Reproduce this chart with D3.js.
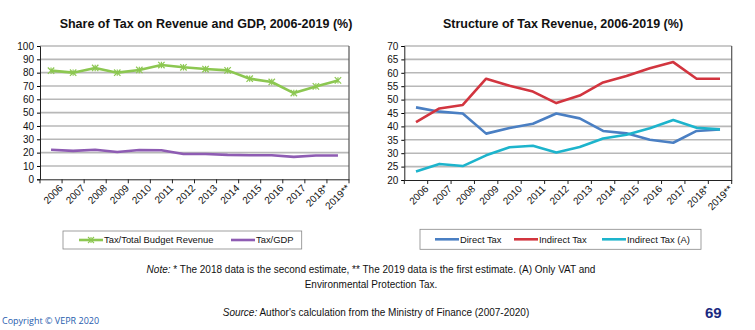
<!DOCTYPE html>
<html><head><meta charset="utf-8">
<script src="https://cdn.jsdelivr.net/npm/d3@7"></script>
<style>body{margin:0;background:#fff}svg{display:block}</style>
</head><body>
<script>
const years = ["2006","2007","2008","2009","2010","2011","2012","2013","2014","2015","2016","2017","2018*","2019**"];
const taxRevenue = [81.5,80,83.5,80,82,85.7,84,82.7,81.7,75.5,73,64.7,69.7,74.2];
const taxGDP = [22.2,21.3,22.2,20.5,22,21.8,19,19,18.3,18,18,16.8,17.8,17.8];
const directTax = [47.1,45.5,44.8,37.3,39.4,41,44.8,43,38.3,37.4,35,33.9,38.3,38.9];
const indirectTax = [41.6,46.7,48,57.8,55.2,53,48.7,51.5,56.4,58.8,61.7,64,57.8,57.8];
const indirectTaxA = [23.2,26,25.2,29.2,32.2,32.8,30.3,32.3,35.5,36.9,39.3,42.4,39.5,38.9];
const leftTicks = [0,10,20,30,40,50,60,70,80,90,100];
const rightTicks = [20,25,30,35,40,45,50,55,60,65,70];

const svg = d3.select("body").append("svg").attr("width",755).attr("height",330);
const FONT = "Liberation Sans, Arial, sans-serif";

function panel(cfg){
  const g = svg.append("g");
  const x = d3.scaleBand().domain(years).range([cfg.x0,cfg.x1]);
  const y = d3.scaleLinear().domain(cfg.domain).range([cfg.y1,cfg.y0]);
  g.selectAll(".grid").data(cfg.ticks.slice(1)).enter().append("line")
    .attr("x1",cfg.x0).attr("x2",cfg.x1).attr("y1",d=>y(d)).attr("y2",d=>y(d))
    .attr("stroke","#b8b8b8").attr("stroke-width",1.6);
  g.append("line").attr("x1",cfg.x1).attr("x2",cfg.x1).attr("y1",cfg.y0).attr("y2",cfg.y1)
    .attr("stroke","#555").attr("stroke-width",1.2);
  const ya = g.append("g").attr("transform",`translate(${cfg.x0},0)`)
    .call(d3.axisLeft(y).tickValues(cfg.ticks).tickSize(3).tickPadding(3));
  ya.select(".domain").attr("stroke","#222");
  ya.selectAll("text").attr("font-family",FONT).attr("font-size",10).attr("fill","#111");
  const xa = g.append("g").attr("transform",`translate(0,${cfg.y1})`)
    .call(d3.axisBottom(x).tickSize(0));
  xa.select(".domain").attr("stroke","#222");
  const bounds = years.map(d=>x(d)).concat([cfg.x1]);
  g.selectAll(".bt").data(bounds).enter().append("line")
    .attr("x1",d=>d).attr("x2",d=>d).attr("y1",cfg.y1).attr("y2",cfg.y1+4)
    .attr("stroke","#222");
  xa.selectAll(".tick text").attr("font-family",FONT).attr("font-size",10).attr("fill","#111")
    .attr("text-anchor","end").attr("x",0).attr("y",0)
    .attr("transform",`translate(${x.bandwidth()/2-1},7) rotate(-45)`)
    .attr("dy","0.35em").attr("dx","0");
  cfg.series.forEach(s=>{
    const line = d3.line().x((d,i)=>x(years[i])+x.bandwidth()/2).y(d=>y(d));
    g.append("path").datum(s.values).attr("d",line).attr("fill","none")
      .attr("stroke",s.color).attr("stroke-width",2.6).attr("stroke-linejoin","round");
    if(s.marker){
      s.values.forEach((v,i)=>{
        const cx = x(years[i])+x.bandwidth()/2, cy=y(v), r=3.2;
        [[-r,-r,r,r],[-r,r,r,-r],[0,-r,0,r]].forEach(p=>{
          g.append("line").attr("x1",cx+p[0]).attr("y1",cy+p[1]).attr("x2",cx+p[2]).attr("y2",cy+p[3])
            .attr("stroke",s.color).attr("stroke-width",1.2);
        });
      });
    }
  });
  svg.append("text").attr("x",cfg.titleX).attr("y",28).attr("text-anchor","middle")
    .attr("font-family",FONT).attr("font-weight","bold").attr("font-size",12.5).attr("fill","#111")
    .text(cfg.title);
  const lg = svg.append("g");
  lg.append("rect").attr("x",cfg.leg.x).attr("y",cfg.leg.y).attr("width",cfg.leg.w).attr("height",cfg.leg.h)
    .attr("fill","#fff").attr("stroke","#888").attr("stroke-width",0.8);
  cfg.series.forEach((s,i)=>{
    const lx = cfg.leg.items[i], ly = cfg.leg.y+cfg.leg.h/2;
    lg.append("line").attr("x1",lx).attr("x2",lx+24).attr("y1",ly).attr("y2",ly)
      .attr("stroke",s.color).attr("stroke-width",2.6);
    if(s.marker){
      const cx=lx+12,r=3;
      [[-r,-r,r,r],[-r,r,r,-r],[0,-r,0,r]].forEach(p=>{
        lg.append("line").attr("x1",cx+p[0]).attr("y1",ly+p[1]).attr("x2",cx+p[2]).attr("y2",ly+p[3])
          .attr("stroke",s.color).attr("stroke-width",1.1);
      });
    }
    lg.append("text").attr("x",lx+25).attr("y",ly).attr("dy","0.35em")
      .attr("font-family",FONT).attr("font-size",9.4).attr("fill","#111").text(s.name);
  });
}

panel({x0:40,x1:349,y0:46,y1:179.3,domain:[0,100],ticks:leftTicks,
  title:"Share of Tax on Revenue and GDP, 2006-2019 (%)",titleX:206,
  series:[{name:"Tax/Total Budget Revenue",values:taxRevenue,color:"#8cc751",marker:true},
          {name:"Tax/GDP",values:taxGDP,color:"#8e5cb3"}],
  leg:{x:63,y:231,w:238.7,h:18,items:[79,231]}});

panel({x0:404.3,x1:731.7,y0:46,y1:180,domain:[20,70],ticks:rightTicks,
  title:"Structure of Tax Revenue, 2006-2019 (%)",titleX:563,
  series:[{name:"Direct Tax",values:directTax,color:"#4a7fc3"},
          {name:"Indirect Tax",values:indirectTax,color:"#d2353f"},
          {name:"Indirect Tax (A)",values:indirectTaxA,color:"#1db4cc"}],
  leg:{x:420,y:229.3,w:281,h:20,items:[435,514,602]}});

const note = svg.append("text").attr("x",371).attr("y",273).attr("text-anchor","middle")
  .attr("font-family",FONT).attr("font-size",10).attr("fill","#111");
note.append("tspan").attr("font-style","italic").text("Note:");
note.append("tspan").text(" * The 2018 data is the second estimate, ** The 2019 data is the first estimate. (A) Only VAT and");
svg.append("text").attr("x",371).attr("y",288).attr("text-anchor","middle")
  .attr("font-family",FONT).attr("font-size",10).attr("fill","#111").text("Environmental Protection Tax.");
const src = svg.append("text").attr("x",376).attr("y",316).attr("text-anchor","middle")
  .attr("font-family",FONT).attr("font-size",10).attr("fill","#111");
src.append("tspan").attr("font-style","italic").text("Source:");
src.append("tspan").text(" Author's calculation from the Ministry of Finance (2007-2020)");
svg.append("text").attr("x",2).attr("y",324).attr("font-family","Open Sans, sans-serif")
  .attr("font-size",9).attr("fill","#1f5cae").text("Copyright © VEPR 2020");
svg.append("text").attr("x",705).attr("y",318).attr("font-family",FONT).attr("font-weight","bold")
  .attr("font-size",15).attr("fill","#1b2a80").text("69");
</script>
</body></html>
